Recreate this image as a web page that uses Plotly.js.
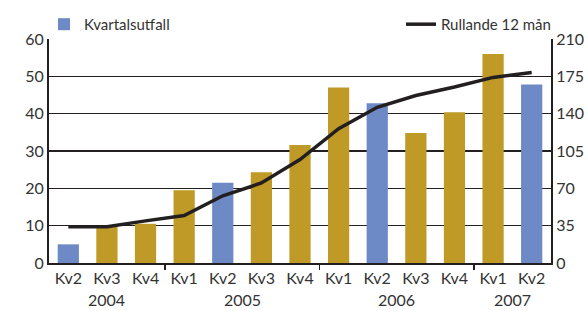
<!DOCTYPE html>
<html><head><meta charset="utf-8">
<script src="https://cdn.plot.ly/plotly-3.0.1.min.js"></script>
<style>html,body{margin:0;padding:0;background:#fff}#c{width:588px;height:311px}</style>
</head><body><div id="c"></div>
<script>
const years = ["2004","2004","2004","2005","2005","2005","2005","2006","2006","2006","2006","2007","2007"];
const quarters = ["Kv2","Kv3","Kv4","Kv1","Kv2","Kv3","Kv4","Kv1","Kv2","Kv3","Kv4","Kv1","Kv2"];
const kvartalsutfall = [5, 9.8, 10.5, 19.5, 21.5, 24.3, 31.6, 47, 42.8, 34.8, 40.4, 56, 47.8];
const rullande = [34, 34, 39.5, 44.5, 63, 75, 97, 126, 146, 157, 165, 174, 178.5];
const blue = "#6d8ac6", gold = "#bf9a26";

const idx = quarters.map((_, i) => i);
const barColors = quarters.map(q => q === "Kv2" ? blue : gold);
const uniqYears = [...new Set(years)];
const yearCenters = uniqYears.map(y => {
  const ii = idx.filter(i => years[i] === y);
  return (ii[0] + ii[ii.length - 1]) / 2;
});
const yearBoundaries = idx.slice(1).filter(i => years[i] !== years[i - 1]).map(i => i - 0.5);

const fam = "Lato, 'Open Sans', sans-serif";
const font = {family:fam, size:16, color:"#333"};
const legFont = {family:fam, size:15, color:"#333"};
const xr = [-0.5, idx.length - 0.5];

const data = [
  {type:"bar", name:"Kvartalsutfall", x:idx, y:kvartalsutfall,
   marker:{color:barColors}, legend:"legend"},
  {type:"scatter", mode:"lines", name:"Rullande 12 mån", x:idx, y:rullande,
   yaxis:"y2", line:{color:"#231f20", width:3.5}, legend:"legend2"},
  {type:"scatter", mode:"markers", x:yearBoundaries, y:yearBoundaries.map(() => null),
   xaxis:"x2", showlegend:false, hoverinfo:"skip", marker:{opacity:0}}
];
const layout = {
  width:588, height:311,
  margin:{l:49, r:37, t:39, b:48, autoexpand:false},
  paper_bgcolor:"#fff", plot_bgcolor:"#fff",
  font: font,
  bargap:0.45,
  showlegend:true,
  legend:{x:-0.01, y:1.065, xanchor:"left", yanchor:"middle", orientation:"h",
          font:legFont, bgcolor:"rgba(0,0,0,0)"},
  legend2:{x:1.01, y:1.065, xanchor:"right", yanchor:"middle", orientation:"h",
           font:legFont, bgcolor:"rgba(0,0,0,0)"},
  xaxis:{type:"linear", range:xr, tickvals:idx, ticktext:quarters,
         showline:true, linecolor:"#231f20", linewidth:2, ticks:"", tickfont:font,
         showgrid:false, zeroline:false},
  xaxis2:{overlaying:"x", type:"linear", range:xr, tickvals:yearBoundaries,
          ticks:"outside", ticklen:6, tickwidth:1.5, tickcolor:"#231f20",
          showticklabels:false, showgrid:false, zeroline:false, showline:false,
          anchor:"y", side:"bottom"},
  yaxis:{range:[0,60], dtick:10, showline:true, linecolor:"#231f20", linewidth:2,
         gridcolor:"#231f20", gridwidth:1.5, zeroline:false, ticks:"", tickfont:font},
  yaxis2:{overlaying:"y", side:"right", range:[0,210], dtick:35, showline:true,
          linecolor:"#231f20", linewidth:2, showgrid:false, zeroline:false, ticks:"", tickfont:font},
  annotations: uniqYears.map((y, k) => ({
    text:y, x:yearCenters[k], xref:"x", y:-0.165, yref:"paper", yanchor:"middle",
    showarrow:false, font:font
  }))
};
Plotly.newPlot("c", data, layout, {displayModeBar:false, staticPlot:true});
</script></body></html>
